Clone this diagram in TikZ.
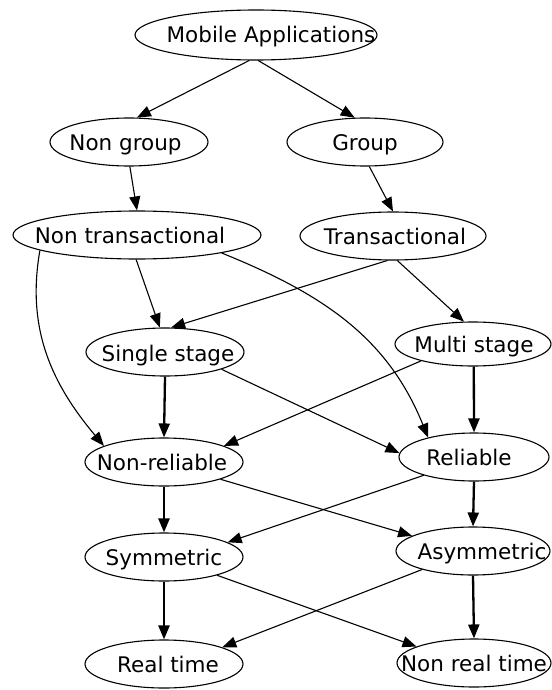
\documentclass[tikz,border=0pt]{standalone}
\usepackage{fontspec}
\setmainfont{DejaVu Sans}
\usetikzlibrary{shapes.geometric,arrows.meta}
\begin{document}
\begin{tikzpicture}[x=1pt,y=1pt,
  ell/.style={ellipse, draw, line width=1.1pt, inner sep=0pt},
  lab/.style={font=\fontsize{21.5}{24}\selectfont, inner sep=0pt, anchor=base},
  edge/.style={line width=1.1pt, -{Triangle[length=14pt,width=11pt]}},
  bedge/.style={line width=2.3pt, -{Triangle[length=14pt,width=11pt]}}]
\useasboundingbox (0,0) rectangle (551,-690);
\node[ell, minimum width=242, minimum height=50] (ma) at (256,-35) {};
\node[ell, minimum width=158, minimum height=48] (ng) at (129,-142) {};
\node[ell, minimum width=156, minimum height=48] (g) at (365,-142) {};
\node[ell, minimum width=248, minimum height=48] (nt) at (137,-235) {};
\node[ell, minimum width=186, minimum height=48] (t) at (393,-236) {};
\node[ell, minimum width=158, minimum height=48] (ss) at (165,-352) {};
\node[ell, minimum width=156, minimum height=44] (ms) at (473,-344) {};
\node[ell, minimum width=158, minimum height=48] (nr) at (164,-462) {};
\node[ell, minimum width=150, minimum height=48] (r) at (474,-457) {};
\node[ell, minimum width=158, minimum height=48] (s) at (164,-557) {};
\node[ell, minimum width=154, minimum height=48] (a) at (473,-551) {};
\node[ell, minimum width=158, minimum height=48] (rt) at (164,-664) {};
\node[ell, minimum width=154, minimum height=48] (nrt) at (474,-663) {};

\node[lab] (ma-t) at ([xshift=15pt,yshift=-8pt]ma.center) {Mobile Applications};
\node[lab] (ng-t) at ([xshift=-3.5pt,yshift=-8.5pt]ng.center) {Non group};
\node[lab] (g-t) at ([yshift=-8.5pt]g.center) {Group};
\node[lab] (nt-t) at ([xshift=-7pt,yshift=-8.5pt]nt.center) {Non transactional};
\node[lab] (t-t) at ([xshift=2pt,yshift=-8.5pt]t.center) {Transactional};
\node[lab] (ss-t) at ([xshift=3pt,yshift=-9pt]ss.center) {Single stage};
\node[lab] (ms-t) at ([xshift=1pt,yshift=-8pt]ms.center) {Multi stage};
\node[lab] (nr-t) at ([xshift=-2pt,yshift=-8.5pt]nr.center) {Non-reliable};
\node[lab] (r-t) at ([xshift=-5pt,yshift=-8.5pt]r.center) {Reliable};
\node[lab] (s-t) at ([yshift=-8.5pt]s.center) {Symmetric};
\node[lab] (a-t) at ([xshift=9pt,yshift=-8.5pt]a.center) {Asymmetric};
\node[lab] (rt-t) at ([xshift=4pt,yshift=-8.5pt]rt.center) {Real time};
\node[lab] (nrt-t) at ([yshift=-8.5pt]nrt.center) {Non real time};

\draw[edge] (ma.255) -- (ng.72);
\draw[edge] (ma.275) -- (g.113);
\draw[edge] (ng.272) -- (nt.90);
\draw[edge] (g.280) -- (t.90);
\draw[edge] (nt.268) -- (ss.102);
\draw[edge] (nt.189) to[out=260, in=130] (nr.165);
\draw[edge] (nt.348) to[out=-22, in=112] (r.157);
\draw[edge] (t.257) -- (ss.76);
\draw[edge] (t.280) -- (ms.112);
\draw[bedge] (ss.270) -- (nr.90);
\draw[edge] (ss.343) -- (r.177);
\draw[bedge] (ms.272) -- (r.90);
\draw[edge] (ms.198) -- (nr.15);
\draw[bedge] (nr.270) -- (s.90);
\draw[edge] (nr.343) -- (a.166);
\draw[edge] (r.200) -- (s.13);
\draw[bedge] (r.270) -- (a.90);
\draw[bedge] (s.270) -- (rt.90);
\draw[edge] (s.341) -- (nrt.164);
\draw[edge] (a.200) -- (rt.16);
\draw[bedge] (a.270) -- (nrt.90);
\end{tikzpicture}
\end{document}
